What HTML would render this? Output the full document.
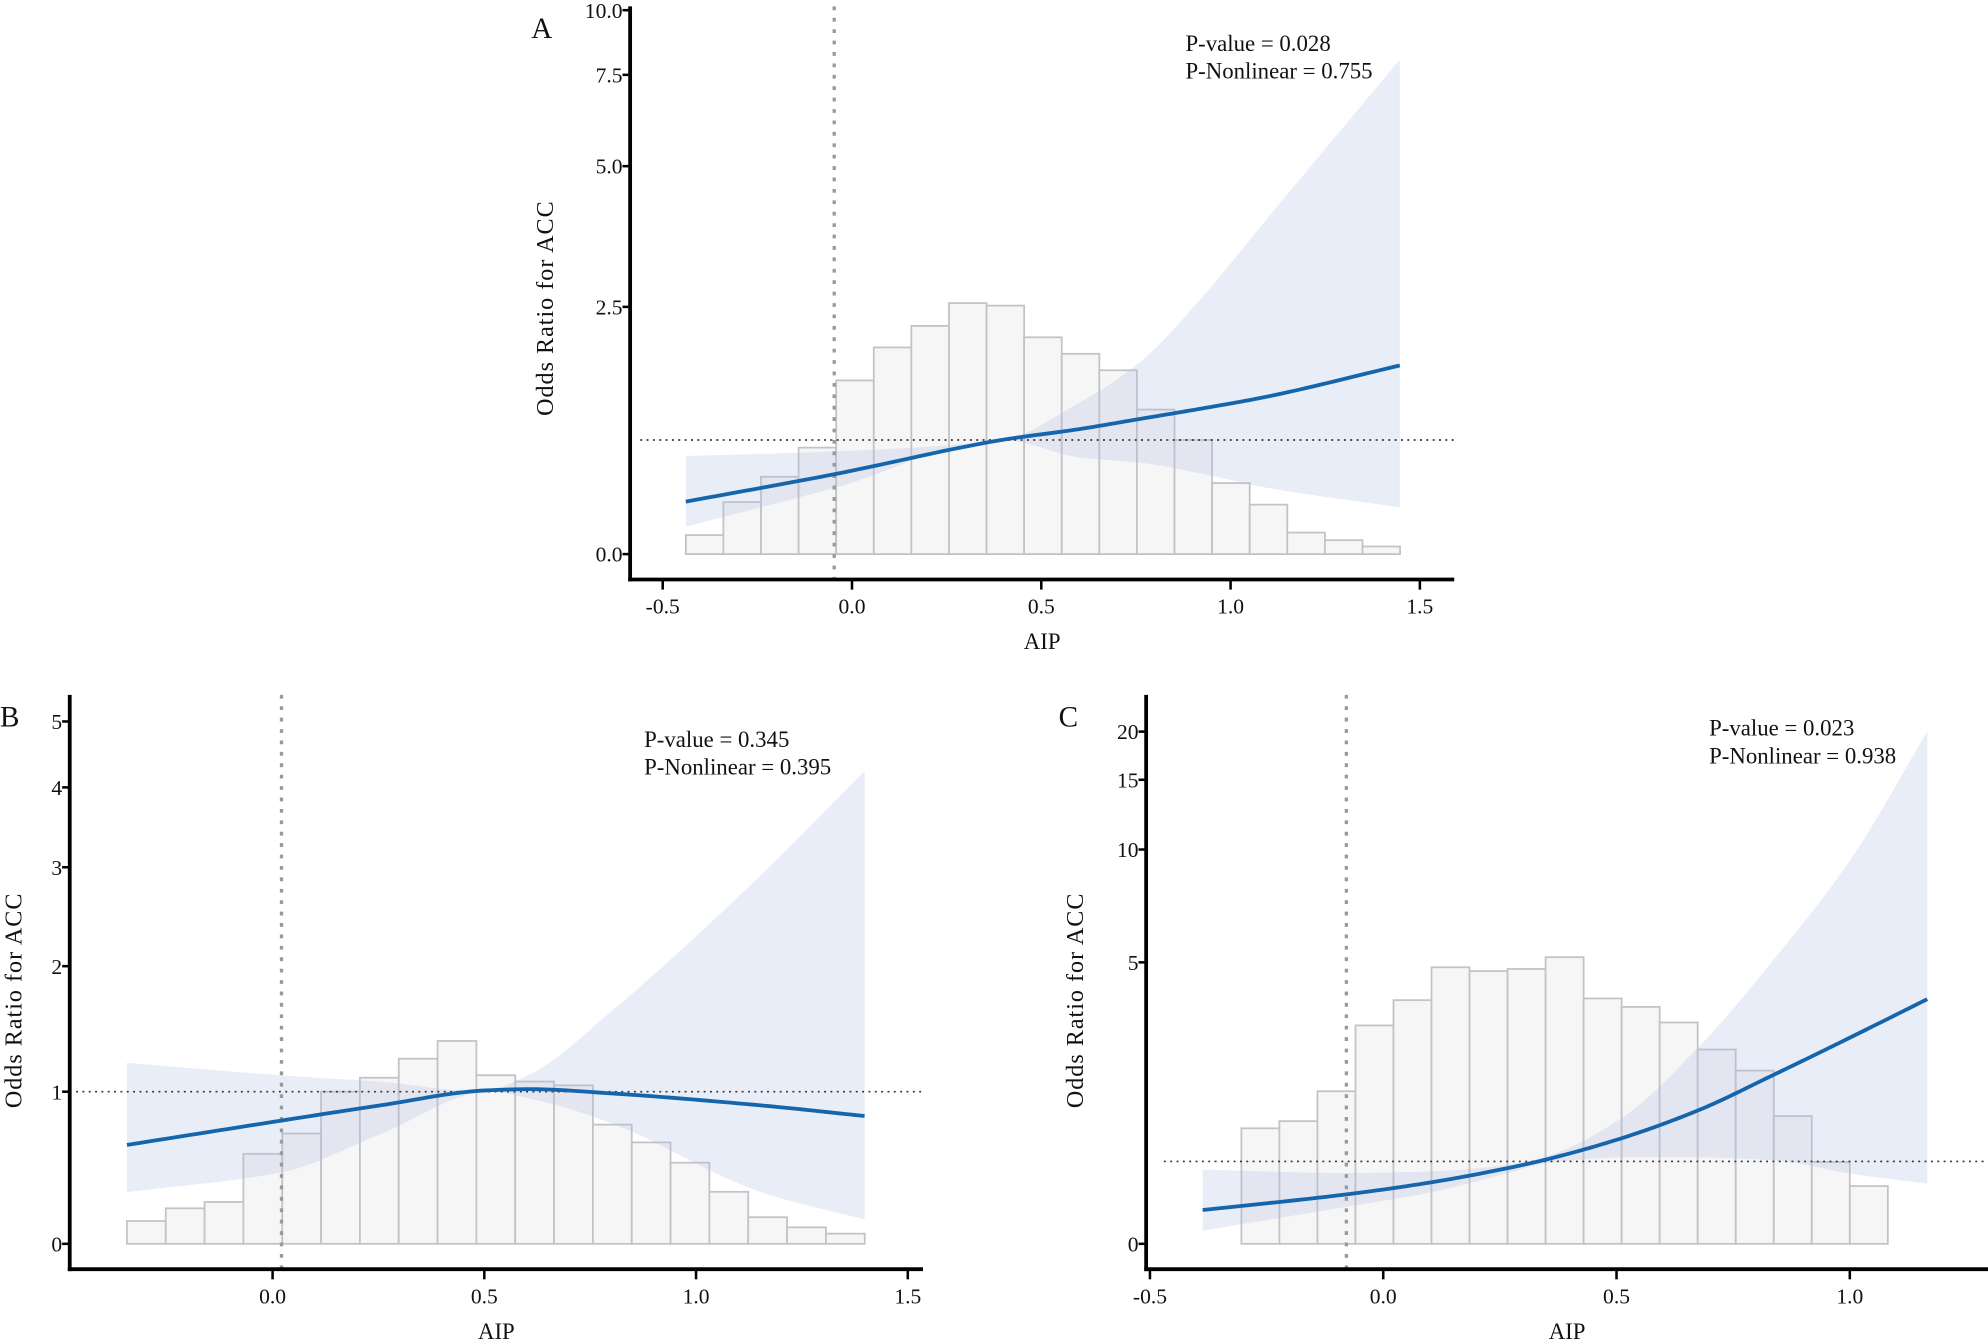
<!DOCTYPE html>
<html><head><meta charset="utf-8"><style>
html,body{margin:0;padding:0;background:#fff;}
svg{display:block;font-family:"Liberation Serif","Times New Roman",serif;}
</style></head><body>
<svg id="fig" width="1988" height="1341" viewBox="0 0 1568 1057.6" xmlns="http://www.w3.org/2000/svg"></svg>
<script>
// ---- Panel A data ----
const aHistStart = -0.439, aHistWidth = 0.0993;
const aHistCounts = [15,41,61,84,137,163,180,198,196,171,158,145,114,90,56,39,17,11,6];
const aCurveX = [-0.439,-0.047,0.395,0.596,0.764,0.931,1.098,1.447];
const aCurveOR = [0.46,0.70,1.0,1.12,1.24,1.36,1.49,1.84];
const aUpper = [0.86,0.90,1.0,1.41,1.89,2.72,4.08,8.09];
const aLower = [0.24,0.58,1.0,0.85,0.80,0.70,0.58,0.41];
const aYTicks = [0,2.5,5,7.5,10];
const aYTickLabels = ["0.0","2.5","5.0","7.5","10.0"];
const aXTicks = [-0.5,0,0.5,1.0,1.5];
const aXTickLabels = ["-0.5","0.0","0.5","1.0","1.5"];
const aRefX = -0.047;
// ---- Panel B data ----
const bHistStart = -0.344, bHistWidth = 0.0917;
const bHistCounts = [18,28,33,71,87,120,131,146,160,133,128,125,94,80,64,41,21,13,8];
const bCurveX = [-0.344,0.021,0.254,0.503,0.614,0.793,1.153,1.398];
const bCurveOR = [0.65,0.81,0.91,1.01,1.02,0.99,0.91,0.84];
const bUpper = [1.23,1.13,1.08,1.01,1.15,1.62,2.92,4.25];
const bLower = [0.34,0.47,0.72,1.0,0.95,0.8,0.34,0.16];
const bYTicks = [0,1,2,3,4,5];
const bYTickLabels = ["0","1","2","3","4","5"];
const bXTicks = [0,0.5,1.0,1.5];
const bXTickLabels = ["0.0","0.5","1.0","1.5"];
const bRefX = 0.021;
// ---- Panel C data ----
const cHistStart = -0.304, cHistWidth = 0.0815;
const cHistCounts = [274,291,362,518,578,656,647,652,680,582,562,525,461,411,303,194,137];
const cCurveX = [-0.387,-0.079,0.107,0.268,0.350,0.509,0.676,0.839,1.003,1.166];
const cCurveOR = [0.41,0.60,0.75,0.92,1.04,1.46,2.03,2.75,3.50,4.26];
const cUpper = [0.90,0.86,0.88,0.96,1.10,1.86,3.30,5.18,9.6,20];
const cLower = [0.16,0.45,0.63,0.86,0.98,1.08,1.08,1.02,0.85,0.73];
const cYTicks = [0,5,10,15,20];
const cYTickLabels = ["0","5","10","15","20"];
const cXTicks = [-0.5,0,0.5,1.0];
const cXTickLabels = ["-0.5","0.0","0.5","1.0"];
const cRefX = -0.079;

const NS="http://www.w3.org/2000/svg";
const svg=document.getElementById('fig');
function mk(tag,attrs,parent){const e=document.createElementNS(NS,tag);for(const k in attrs)e.setAttribute(k,attrs[k]);(parent||svg).appendChild(e);return e;}
function interp(v,dom,rng){
  if(v<=dom[0]){return rng[0]+(v-dom[0])*(rng[1]-rng[0])/(dom[1]-dom[0]);}
  for(let i=0;i<dom.length-1;i++){if(v<=dom[i+1]){return rng[i]+(v-dom[i])*(rng[i+1]-rng[i])/(dom[i+1]-dom[i]);}}
  const n=dom.length-1;return rng[n]+(v-dom[n])*(rng[n]-rng[n-1])/(dom[n]-dom[n-1]);
}
function monoPts(pts){
  const n=pts.length,xs=pts.map(p=>p[0]),ys=pts.map(p=>p[1]),d=[],m=[];
  for(let i=0;i<n-1;i++)d.push((ys[i+1]-ys[i])/(xs[i+1]-xs[i]));
  m[0]=d[0];m[n-1]=d[n-2];
  for(let i=1;i<n-1;i++){m[i]=(d[i-1]*d[i]<=0)?(d[i-1]+d[i])/2*0.5:2/(1/d[i-1]+1/d[i]);}
  const out=[];
  for(let i=0;i<n-1;i++){
    const h=xs[i+1]-xs[i];
    for(let k=0;k<20;k++){
      const t=k/20,t2=t*t,t3=t2*t;
      const y=(2*t3-3*t2+1)*ys[i]+(t3-2*t2+t)*h*m[i]+(-2*t3+3*t2)*ys[i+1]+(t3-t2)*h*m[i+1];
      out.push([xs[i]+t*h,y]);
    }
  }
  out.push(pts[n-1]);
  return out;
}
const fmt=p=>p[0].toFixed(2)+","+p[1].toFixed(2);

function panel(cfg){
  const g=mk('g',{});
  
  
  const X=v=>cfg.x0+v*cfg.xs;
  const Y=v=>interp(v,cfg.yDom,cfg.yRng);
  const base=Y(0);
  const hg=mk('g',{},g);
  
  
  cfg.counts.forEach((c,i)=>{
    const x1=X(cfg.hs+i*cfg.hw),x2=X(cfg.hs+(i+1)*cfg.hw);
    const h=c*cfg.cs;
    const r=mk('rect',{x:x1,y:base-h,width:x2-x1,height:h,fill:'#f7f6f7',stroke:'#c3c3c6','stroke-width':1.4},hg);
    
    
  });
  const up=monoPts(cfg.cx.map((x,i)=>[X(x),Y(cfg.up[i])]));
  const lo=monoPts(cfg.cx.map((x,i)=>[X(x),Y(cfg.lo[i])])).reverse();
  const d="M"+up.map(fmt).join(" L")+" L"+lo.map(fmt).join(" L")+" Z";
  const band=mk('path',{d:d,fill:'rgba(175,190,225,0.28)'},g);
  
  
  const hl=mk('line',{x1:cfg.hx1,x2:cfg.ax2,y1:Y(1),y2:Y(1),stroke:'#333','stroke-width':1.3,'stroke-dasharray':'1.5 3.5'},g);
  
  
  const vl=mk('line',{x1:X(cfg.ref),x2:X(cfg.ref),y1:cfg.top,y2:cfg.ay,stroke:'#999','stroke-width':2.6,'stroke-dasharray':'3 6'},g);
  
  
  const cp=monoPts(cfg.cx.map((x,i)=>[X(x),Y(cfg.or[i])]));
  const cv=mk('path',{d:"M"+cp.map(fmt).join(" L"),fill:'none',stroke:'#1565ad','stroke-width':3,'stroke-linejoin':'round'},g);
  
  
  const ya=mk('line',{x1:cfg.ax,x2:cfg.ax,y1:cfg.top,y2:cfg.ay+1.5,stroke:'#000','stroke-width':3},g);
  
  
  const xa=mk('line',{x1:cfg.ax-1.5,x2:cfg.ax2,y1:cfg.ay,y2:cfg.ay,stroke:'#000','stroke-width':3},g);
  
  
  cfg.yt.forEach((v,i)=>{
    const y=Y(v);
    const t=mk('line',{x1:cfg.ax-6,x2:cfg.ax,y1:y,y2:y,stroke:'#000','stroke-width':2},g);
    
    
    const l=mk('text',{x:cfg.ax-6,y:y+6,'text-anchor':'end','font-size':17,fill:'#111'},g);
    l.textContent=cfg.ytl[i];
    
    
  });
  cfg.xt.forEach((v,i)=>{
    const x=X(v);
    const t=mk('line',{x1:x,x2:x,y1:cfg.ay,y2:cfg.ay+8,stroke:'#000','stroke-width':2},g);
    
    
    const l=mk('text',{x:x,y:cfg.ay+27,'text-anchor':'middle','font-size':17,fill:'#111'},g);
    l.textContent=cfg.xtl[i];
    
    
  });
  const xt=mk('text',{x:(cfg.ax+cfg.ax2)/2,y:cfg.ay+55,'text-anchor':'middle','font-size':18,fill:'#111'},g);
  xt.textContent='AIP';
  
  
  const yt=mk('text',{x:0,y:0,'text-anchor':'middle','font-size':19,fill:'#111',transform:'translate('+cfg.ytx+','+cfg.yty+') rotate(-90)','letter-spacing':'0.8'},g);
  yt.textContent='Odds Ratio for ACC';
  
  
  const pl=mk('text',{x:cfg.lx,y:cfg.ly,'font-size':23,fill:'#111'},g);
  pl.textContent=cfg.id;
  
  
  const p1=mk('text',{x:cfg.px,y:cfg.py,'font-size':18,fill:'#111'},g);
  p1.textContent=cfg.pv;
  
  
  const p2=mk('text',{x:cfg.px,y:cfg.py+22,'font-size':18,fill:'#111'},g);
  p2.textContent=cfg.pn;
  
  
}

panel({id:'A',x0:672,xs:298.6,yDom:[0,1,2.5,5,7.5,10],yRng:[437,347,242,131,59,8],
  hs:aHistStart,hw:aHistWidth,counts:aHistCounts,cs:1,cx:aCurveX,or:aCurveOR,up:aUpper,lo:aLower,
  ref:aRefX,top:5,ay:457,ax:497,ax2:1147,hx1:505,yt:aYTicks,ytl:aYTickLabels,xt:aXTicks,xtl:aXTickLabels,
  ytx:436,yty:243,lx:419,ly:30,px:935,py:40,pv:'P-value = 0.028',pn:'P-Nonlinear = 0.755'});
panel({id:'B',x0:215,xs:334,yDom:[0,1,2,3,4,5],yRng:[981,861,762,684,621,569],
  hs:bHistStart,hw:bHistWidth,counts:bHistCounts,cs:1,cx:bCurveX,or:bCurveOR,up:bUpper,lo:bLower,
  ref:bRefX,top:548,ay:1001,ax:55,ax2:728,hx1:60,yt:bYTicks,ytl:bYTickLabels,xt:bXTicks,xtl:bXTickLabels,
  ytx:17,yty:789,lx:0,ly:573,px:508,py:589,pv:'P-value = 0.345',pn:'P-Nonlinear = 0.395'});
panel({id:'C',x0:1091,xs:368,yDom:[0,1,5,10,15,20],yRng:[981,916,759,670,615,577],
  hs:cHistStart,hw:cHistWidth,counts:cHistCounts,cs:0.3325,cx:cCurveX,or:cCurveOR,up:cUpper,lo:cLower,
  ref:cRefX,top:548,ay:1001,ax:904,ax2:1568,hx1:918,yt:cYTicks,ytl:cYTickLabels,xt:cXTicks,xtl:cXTickLabels,
  ytx:854,yty:789,lx:835,ly:573,px:1348,py:580,pv:'P-value = 0.023',pn:'P-Nonlinear = 0.938'});
</script>
</body></html>
